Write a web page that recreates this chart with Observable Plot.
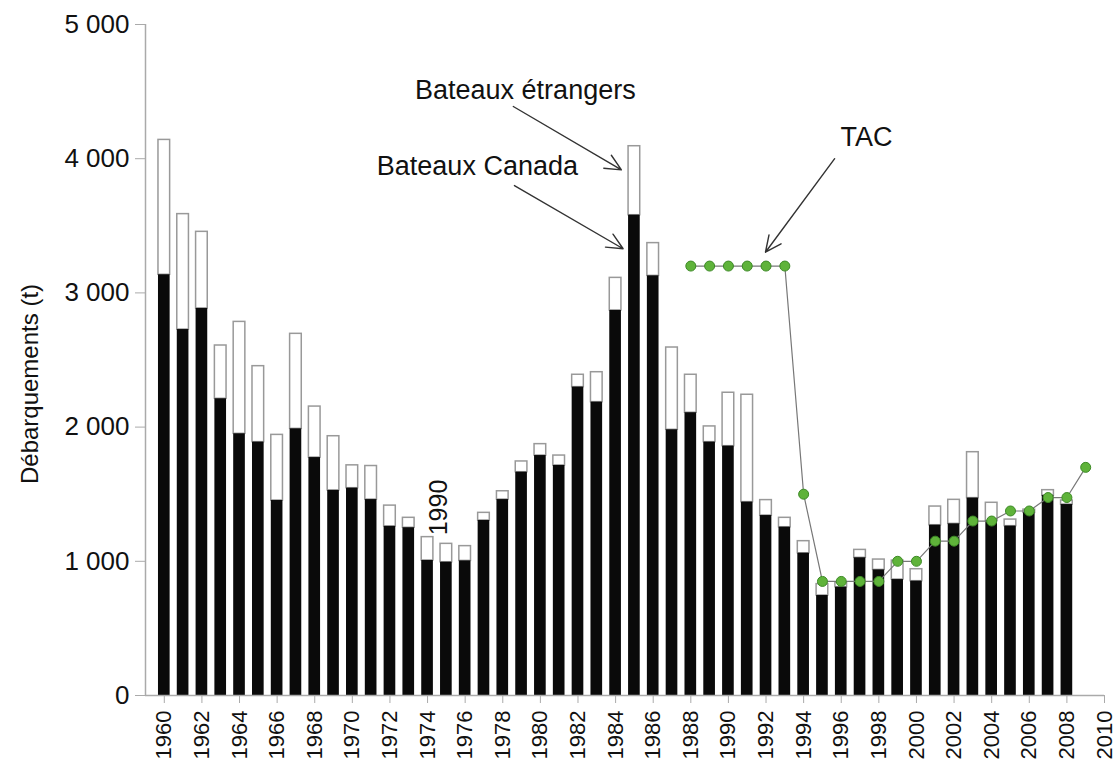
<!DOCTYPE html>
<html>
<head>
<meta charset="utf-8">
<script src="https://cdn.jsdelivr.net/npm/d3@7"></script>
<script src="https://cdn.jsdelivr.net/npm/@observablehq/plot@0.6"></script>
<style>
  html, body { margin: 0; padding: 0; background: #fff; }
  #chart svg { display: block; }
</style>
</head>
<body>
<div id="chart"></div>
<script>
const years = [1960,1961,1962,1963,1964,1965,1966,1967,1968,1969,
               1970,1971,1972,1973,1974,1975,1976,1977,1978,1979,
               1980,1981,1982,1983,1984,1985,1986,1987,1988,1989,
               1990,1991,1992,1993,1994,1995,1996,1997,1998,1999,
               2000,2001,2002,2003,2004,2005,2006,2007,2008];
// Canadian boats landings (t)
const canada = [3135,2727,2884,2211,1950,1888,1453,1987,1773,1528,
                1545,1460,1260,1250,1006,993,1003,1304,1460,1664,
                1788,1714,2298,2186,2869,3579,3127,1980,2107,1888,
                1858,1441,1341,1254,1060,745,807,1026,936,864,
                852,1269,1279,1471,1300,1262,1361,1490,1423];
// Total landings incl. foreign boats (t)
const total = [4140,3587,3455,2608,2784,2454,1942,2695,2153,1932,
               1715,1710,1415,1324,1180,1130,1113,1361,1522,1744,
               1873,1788,2390,2409,3112,4093,3371,2593,2390,2005,
               2256,2241,1456,1324,1150,830,840,1085,1013,1005,
               941,1408,1458,1813,1436,1311,1385,1530,1453];
const tacYears = [1988,1989,1990,1991,1992,1993,1994,1995,1996,1997,1998,
                  1999,2000,2001,2002,2003,2004,2005,2006,2007,2008,2009];
const tacValues = [3200,3200,3200,3200,3200,3200,1500,850,850,850,850,
                   1000,1000,1150,1150,1300,1300,1375,1375,1475,1475,1700];
const xTicks = [1960,1962,1964,1966,1968,1970,1972,1974,1976,1978,1980,1982,1984,
                1986,1988,1990,1992,1994,1996,1998,2000,2002,2004,2006,2008,2010];
const yTicks = [0,1000,2000,3000,4000,5000];
const yLabel = "Débarquements (t)";
// annotations (data units)
const noteTexts = ["Bateaux étrangers", "Bateaux Canada", "TAC"];
const noteX = [1979.2, 1976.65, 1997.34];
const noteY = [4508, 3942, 4158];
const arrowX1 = [1978.56, 1978.62, 1995.65];
const arrowY1 = [4389, 3800, 4000];
const arrowX2 = [1984.31, 1984.4, 1991.97];
const arrowY2 = [3917, 3329, 3303];
const strayLabel = ["1990"];
const strayX = [1974.63];
const strayY = [1401];

const bars = years.map((y, i) => ({year: y, canada: canada[i], total: total[i]}));
const tac = tacYears.map((y, i) => ({year: y, value: tacValues[i]}));
const notes = noteTexts.map((t, i) => ({text: t, x: noteX[i], y: noteY[i]}));
const arrows = arrowX1.map((x, i) => ({x1: x, y1: arrowY1[i], x2: arrowX2[i], y2: arrowY2[i]}));
const stray = strayLabel.map((t, i) => ({text: t, x: strayX[i], y: strayY[i]}));

const half = 0.31;
const fmtY = d => d === 0 ? "0" : d3.format(",")(d).replace(/,/g, "\u00a0");

const chart = Plot.plot({
  width: 1117,
  height: 769,
  marginLeft: 145,
  marginRight: 13,
  marginTop: 24,
  marginBottom: 74,
  style: {fontFamily: "'Liberation Sans', Arial, sans-serif", background: "#fff", color: "#111"},
  x: {type: "linear", domain: [1959, 2010]},
  y: {domain: [0, 5000]},
  marks: [
    Plot.rect(bars, {x1: d => d.year - half, x2: d => d.year + half, y1: "canada", y2: "total",
      fill: "#fff", stroke: "#999", strokeWidth: 1.5}),
    Plot.rect(bars, {x1: d => d.year - half, x2: d => d.year + half, y1: 0, y2: "canada",
      fill: "#0a0a0a"}),
    Plot.ruleY([0], {stroke: "#aaa", strokeWidth: 1.5}),
    Plot.ruleX([1959], {stroke: "#aaa", strokeWidth: 1.5}),
    Plot.axisY({ticks: yTicks, tickFormat: fmtY, tickSize: 10, tickPadding: 6, fontSize: 26,
      stroke: "#aaa", fill: "#111", label: null}),
    Plot.axisX({ticks: xTicks, tickFormat: d => String(d), tickSize: 8, tickPadding: 7,
      tickRotate: -90, fontSize: 22, stroke: "#aaa", fill: "#111", label: null}),
    Plot.text([yLabel], {frameAnchor: "left", text: d => d, rotate: -90, dx: -115, dy: 24,
      textAnchor: "middle", fontSize: 24, fill: "#111"}),
    Plot.line(tac, {x: "year", y: "value", stroke: "#777", strokeWidth: 1.2}),
    Plot.dot(tac, {x: "year", y: "value", r: 5, fill: "#5fb33a", stroke: "#3d8a26", strokeWidth: 1}),
    Plot.arrow(arrows, {x1: "x1", y1: "y1", x2: "x2", y2: "y2", stroke: "#333",
      strokeWidth: 1.4, headLength: 19, headAngle: 50}),
    Plot.text(notes, {x: "x", y: "y", text: "text", fontSize: 27, fill: "#111"}),
    Plot.text(stray, {x: "x", y: "y", text: "text", rotate: -90, fontSize: 25, fill: "#111"})
  ]
});
document.getElementById("chart").appendChild(chart);
</script>
</body>
</html>
